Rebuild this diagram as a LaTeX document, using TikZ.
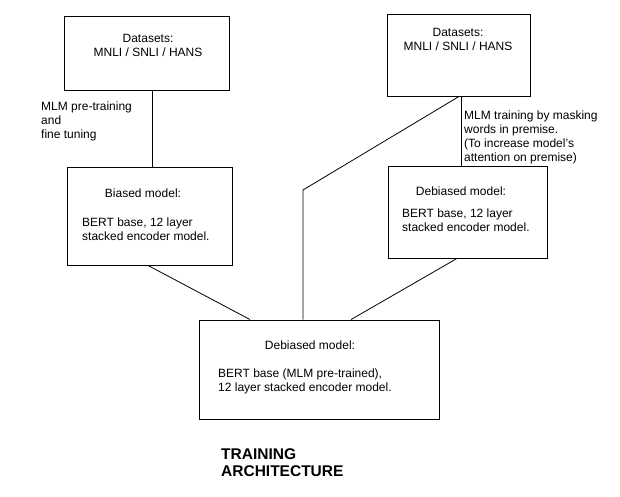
\documentclass[tikz,border=0pt]{standalone}
\usepackage{fontspec}
\setmainfont{Liberation Sans}
\usetikzlibrary{positioning}
\tikzset{
box/.style= {rectangle, draw, line width=0.9pt, inner sep=0pt},
txt/.style= {inner sep=0pt, font=\fontsize{12}{14}\selectfont},
lbl/.style= {txt, align=left, anchor=base west},
head/.style= {txt, anchor=base},
link/.style= {draw, line width=0.8pt}
}

\begin{document}
\begin{tikzpicture}[x=1pt,y=-1pt]
\useasboundingbox (0,0) rectangle (620,497);

% the boxes
\node[box,minimum width=165pt,minimum height=74pt] (dataL) at (146.5,53) {};
\node[box,minimum width=165pt,minimum height=98pt] (biased) at (149.5,216) {};
\node[box,minimum width=143pt,minimum height=82pt] (dataR) at (458.5,55) {};
\node[box,minimum width=159pt,minimum height=92pt] (debiasR) at (467.5,212) {};
\node[box,minimum width=240pt,minimum height=99pt] (debiasF) at (319,369.5) {};

% the texts inside the boxes (base = last line)
\node[head,align=center] (dataLtxt) at (148,57) {Datasets:\\MNLI / SNLI / HANS};
\node[head,align=center] (dataRtxt) at (458,51) {Datasets:\\MNLI / SNLI / HANS};
\node[head] (biasedhead) at (143,197) {Biased model:};
\node[lbl] (biasedbody) at (82,240) {BERT base, 12 layer\\stacked encoder model.};
\node[head] (debiasRhead) at (461,195) {Debiased model:};
\node[lbl] (debiasRbody) at (402,231) {BERT base, 12 layer\\stacked encoder model.};
\node[head] (debiasFhead) at (310,349) {Debiased model:};
\node[lbl] (debiasFbody) at (218,391) {BERT base (MLM pre-trained),\\12 layer stacked encoder model.};

% the labels next to the lines
\node[lbl] (pretrain) at (41,139) {MLM pre-training\\and\\fine tuning};
\node[lbl] (masking) at (464,161) {MLM training by masking\\words in premise.\\(To increase model's\\attention on premise)};

% title
\node[lbl,font=\fontsize{15.5}{17}\selectfont\bfseries] (title) at (221,476) {TRAINING\\ARCHITECTURE};

% lines between the boxes
\coordinate (bend) at (303,190);
\draw[link] ([xshift=5.5pt]dataL.south) -- ([xshift=2.5pt]biased.north);
\draw[link] ([xshift=2.5pt]dataR.south) -- ([xshift=-6.5pt]debiasR.north);
\draw[link] ([xshift=0.5pt]dataR.south) -- (bend) -- ([xshift=-16pt]debiasF.north);
\draw[link] ([xshift=-1.5pt]biased.south) -- ([xshift=-69pt]debiasF.north);
\draw[link] ([xshift=-10.5pt]debiasR.south) -- ([xshift=32pt]debiasF.north);

\end{tikzpicture}
\end{document}
